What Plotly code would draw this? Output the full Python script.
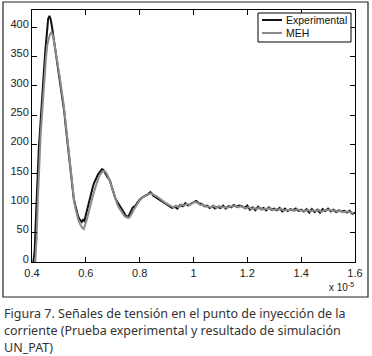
import plotly.graph_objects as go

# ---- data (x in units of 1e-5 s) ----
exp_x = [0.405, 0.410, 0.415, 0.420, 0.425, 0.430, 0.435, 0.440, 0.445, 0.450,
         0.455, 0.460, 0.465, 0.470, 0.475, 0.480, 0.485, 0.490, 0.495, 0.500,
         0.505, 0.510, 0.515, 0.520, 0.525, 0.530, 0.535, 0.540, 0.545, 0.550,
         0.555, 0.560, 0.565, 0.570, 0.575, 0.580, 0.585, 0.590, 0.595, 0.600,
         0.605, 0.610, 0.615, 0.620, 0.625, 0.630, 0.635, 0.640, 0.645, 0.650,
         0.655, 0.660, 0.665, 0.670, 0.675, 0.680, 0.685, 0.690, 0.695, 0.700,
         0.705, 0.710, 0.715, 0.720, 0.725, 0.730, 0.735, 0.740, 0.745, 0.750,
         0.755, 0.760, 0.765, 0.770, 0.775, 0.780, 0.785, 0.790, 0.795, 0.800,
         0.810, 0.820, 0.830, 0.840, 0.845, 0.850, 0.860, 0.870, 0.880, 0.890,
         0.900, 0.910, 0.920, 0.930, 0.940, 0.950, 0.960, 0.970, 0.980, 0.990,
         1.000, 1.010, 1.020, 1.030, 1.040, 1.050, 1.060, 1.070, 1.080, 1.090,
         1.100, 1.110, 1.120, 1.130, 1.140, 1.150, 1.160, 1.170, 1.180, 1.190,
         1.200, 1.210, 1.220, 1.230, 1.240, 1.250, 1.260, 1.270, 1.280, 1.290,
         1.300, 1.310, 1.320, 1.330, 1.340, 1.350, 1.360, 1.370, 1.380, 1.390,
         1.400, 1.410, 1.420, 1.430, 1.440, 1.450, 1.460, 1.470, 1.480, 1.490,
         1.500, 1.510, 1.520, 1.530, 1.540, 1.550, 1.560, 1.570, 1.580, 1.590,
         1.600]
exp_y = [0, 20, 80, 140, 190, 225, 255, 290, 330, 362,
         395, 414, 419, 412, 398, 382, 368, 352, 338, 322,
         305, 290, 278, 255, 232, 210, 188, 165, 140, 122,
         108, 98, 88, 80, 74, 70, 68, 72, 70, 80,
         90, 98, 108, 118, 126, 134, 140, 145, 149, 152,
         155, 158, 157, 152, 150, 145, 142, 138, 130, 122,
         115, 108, 104, 100, 96, 92, 88, 84, 80, 78,
         77, 79, 84, 90, 93, 94, 96, 100, 104, 106,
         110, 112, 115, 119, 117, 113, 110, 108, 104, 101,
         99, 96, 92, 94, 91, 97, 95, 100, 96, 99,
         101, 104, 100, 99, 95, 96, 92, 95, 91, 94,
         92, 96, 91, 95, 93, 97, 94, 96, 95, 92,
         96, 89, 93, 88, 94, 90, 92, 88, 93, 89,
         91, 88, 92, 86, 91, 87, 90, 88, 91, 87,
         89, 86, 90, 84, 90, 85, 89, 84, 90, 87,
         91, 86, 89, 85, 88, 86, 87, 84, 87, 82,
         84]

meh_x = [0.412, 0.417, 0.422, 0.427, 0.432, 0.437, 0.442, 0.447, 0.452, 0.457,
         0.462, 0.467, 0.472, 0.477, 0.482, 0.487, 0.492, 0.497, 0.502, 0.507,
         0.512, 0.517, 0.522, 0.527, 0.532, 0.537, 0.542, 0.547, 0.552, 0.557,
         0.562, 0.567, 0.572, 0.577, 0.582, 0.587, 0.592, 0.597, 0.602, 0.607,
         0.612, 0.617, 0.622, 0.627, 0.632, 0.637, 0.642, 0.647, 0.652, 0.657,
         0.662, 0.667, 0.672, 0.677, 0.682, 0.687, 0.692, 0.697, 0.702, 0.707,
         0.712, 0.717, 0.722, 0.727, 0.732, 0.737, 0.742, 0.747, 0.752, 0.757,
         0.762, 0.767, 0.772, 0.777, 0.782, 0.787, 0.792, 0.802, 0.812, 0.822,
         0.832, 0.842, 0.852, 0.862, 0.872, 0.882, 0.892, 0.905, 0.915, 0.925,
         0.935, 0.945, 0.955, 0.965, 0.975, 0.985, 0.995, 1.005, 1.015, 1.025,
         1.035, 1.045, 1.055, 1.065, 1.075, 1.085, 1.095, 1.105, 1.115, 1.125,
         1.135, 1.145, 1.155, 1.165, 1.175, 1.185, 1.195, 1.205, 1.215, 1.225,
         1.235, 1.245, 1.255, 1.265, 1.275, 1.285, 1.295, 1.305, 1.315, 1.325,
         1.335, 1.345, 1.355, 1.365, 1.375, 1.385, 1.395, 1.405, 1.415, 1.425,
         1.435, 1.445, 1.455, 1.465, 1.475, 1.485, 1.495, 1.505, 1.515, 1.525,
         1.535, 1.545, 1.555, 1.565, 1.575, 1.585, 1.595]
meh_y = [0, 40, 110, 170, 215, 250, 285, 320, 348, 370,
         382, 388, 391, 386, 375, 362, 348, 333, 318, 302,
         288, 270, 250, 228, 205, 183, 160, 138, 118, 102,
         90, 80, 72, 66, 61, 58, 56, 62, 70, 78,
         88, 98, 106, 114, 122, 130, 137, 143, 148, 152,
         154, 155, 154, 151, 147, 141, 134, 126, 118, 111,
         104, 98, 93, 89, 85, 82, 79, 77, 76, 75,
         76, 79, 83, 88, 92, 96, 100, 106, 110, 113,
         115, 117, 115, 112, 109, 105, 102, 98, 95, 93,
         96, 93, 98, 96, 99, 97, 100, 102, 101, 97,
         98, 94, 95, 93, 96, 92, 95, 93, 94, 92,
         95, 94, 96, 93, 95, 94, 91, 94, 90, 92,
         90, 93, 89, 91, 90, 92, 88, 90, 89, 91,
         87, 89, 88, 90, 87, 90, 88, 88, 87, 89,
         86, 88, 87, 89, 85, 88, 88, 89, 87, 88,
         86, 87, 85, 86, 86, 84, 83]

series_names = ["Experimental", "MEH"]
series_colors = ["#111111", "#8c8c8c"]

x_ticks = [0.4, 0.6, 0.8, 1.0, 1.2, 1.4, 1.6]
x_tick_labels = ["0.4", "0.6", "0.8", "1", "1.2", "1.4", "1.6"]
y_ticks = [0, 50, 100, 150, 200, 250, 300, 350, 400]

caption_lines = ["Figura 7. Señales de tensión en el punto de inyección de la",
                 "corriente (Prueba experimental y resultado de simulación",
                 "UN_PAT)"]

fig = go.Figure()
for xs, ys, nm, col in [(exp_x, exp_y, series_names[0], series_colors[0]),
                        (meh_x, meh_y, series_names[1], series_colors[1])]:
    fig.add_trace(go.Scatter(x=xs, y=ys, mode="lines", name=nm,
                             line=dict(color=col, width=2), showlegend=False))

W, H = 372, 356
L, R, T, B = 32, 355, 10, 262
pw, ph = R - L, B - T

def px(xp):
    return (xp - L) / pw

def py(yp):
    return (B - yp) / ph

tfont = dict(family="Liberation Sans, Arial", size=11, color="#222222")
axis_common = dict(showline=True, linecolor="#000000", linewidth=1, mirror="ticks",
                   ticks="inside", ticklen=5, tickcolor="#000000", showgrid=False,
                   zeroline=False, tickfont=tfont)

shapes = [dict(type="rect", xref="paper", yref="paper",
               x0=px(3), x1=px(368), y0=py(297), y1=py(2),
               line=dict(color="#222222", width=1.2)),
          # legend box
          dict(type="rect", xref="paper", yref="paper",
               x0=px(258), x1=px(351), y0=py(42), y1=py(13),
               line=dict(color="#000000", width=1), fillcolor="white", layer="above")]
annotations = [
    dict(text="x 10<sup>-5</sup>", xref="paper", yref="paper",
         x=px(356), y=py(287), xanchor="right", yanchor="middle", showarrow=False,
         font=dict(family="Liberation Sans, Arial", size=10, color="#222222")),
]
for i, (nm, col) in enumerate(zip(series_names, series_colors)):
    yy = 20 + 13 * i
    shapes.append(dict(type="line", xref="paper", yref="paper",
                       x0=px(262), x1=px(282), y0=py(yy), y1=py(yy),
                       line=dict(color=col, width=2), layer="above"))
    annotations.append(dict(text=nm, xref="paper", yref="paper", x=px(284), y=py(yy),
                            xanchor="left", yanchor="middle", showarrow=False,
                            font=dict(family="Liberation Sans, Arial", size=10.5, color="#111111")))
for i, line in enumerate(caption_lines):
    annotations.append(dict(text=line, xref="paper", yref="paper", x=px(2), y=py(313 + 17 * i),
                            xanchor="left", yanchor="middle", showarrow=False,
                            font=dict(family="Noto Sans", size=12.5, color="#333333")))

fig.update_layout(
    width=W, height=H,
    margin=dict(l=L, r=W - R, t=T, b=H - B),
    paper_bgcolor="white", plot_bgcolor="white",
    xaxis=dict(range=[0.4, 1.6], tickvals=x_ticks, ticktext=x_tick_labels,
               ticklabelstandoff=1, **axis_common),
    yaxis=dict(range=[0, 429], tickvals=y_ticks, ticklabelshift=-3, **axis_common),
    showlegend=False,
    shapes=shapes,
    annotations=annotations,
)

fig.write_html("out.html", config={"displayModeBar": False},
               post_script="document.body.style.margin='0';")
